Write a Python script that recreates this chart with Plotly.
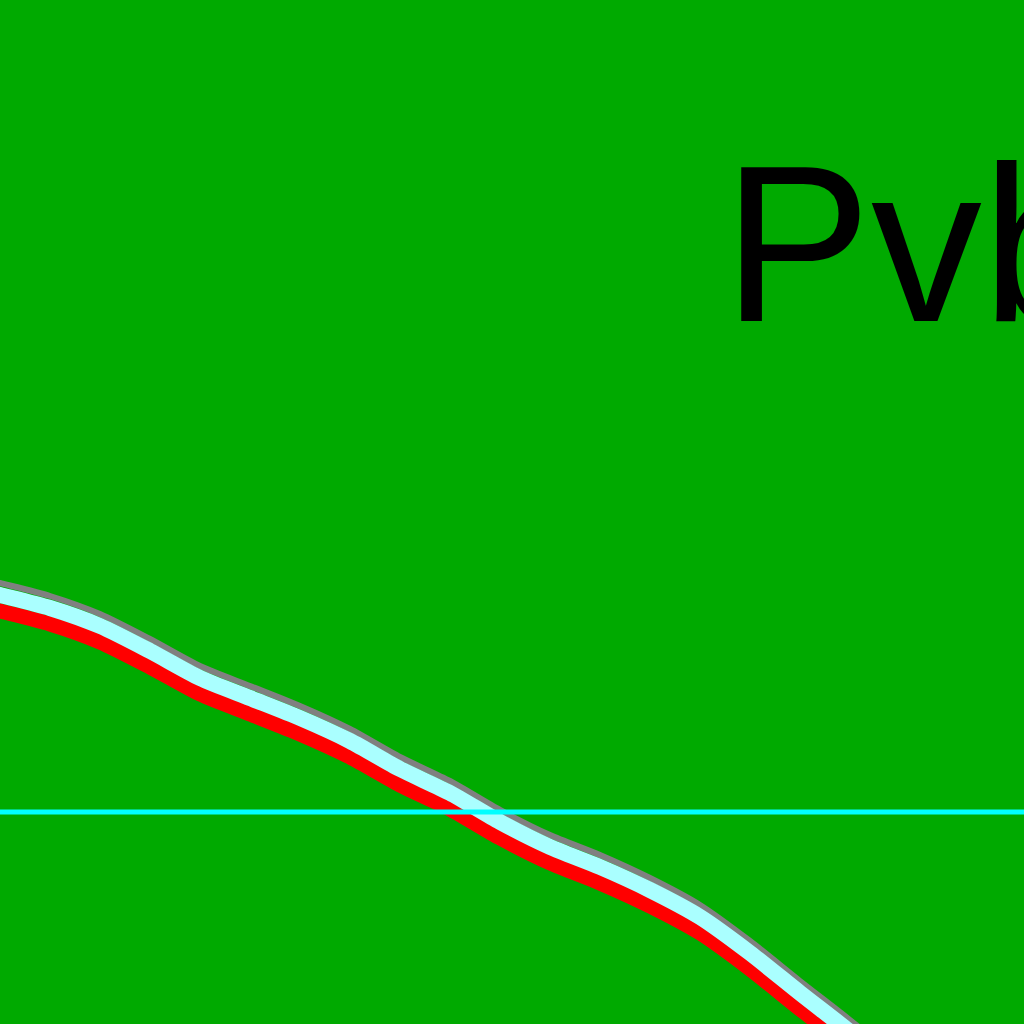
import plotly.graph_objects as go

# positions along the curve
x_vals = [-40, 0, 50, 100, 150, 200, 250, 300, 350, 400, 450, 500, 550, 600, 650, 700, 750, 800, 850, 900]

# three stacked series (value axis runs top -> bottom)
gray_vals = [573, 583, 596, 614, 639, 666, 686, 706, 729, 757, 781, 810, 835, 855, 878, 905, 941, 981, 1020, 1061]
cyan_vals = [585, 595, 608, 626, 651, 678, 698, 718, 741, 769, 793, 822, 847, 867, 890, 917, 953, 993, 1032, 1073]
red_vals = [601, 611, 624, 642, 667, 694, 714, 734, 757, 785, 809, 838, 863, 883, 906, 933, 969, 1009, 1048, 1089]

threshold = 812
label = "Pvb"

fig = go.Figure()
fig.add_trace(go.Scatter(x=x_vals, y=gray_vals, mode="lines", name="gray",
                         line=dict(color="#808080", width=6, shape="spline", smoothing=0.7)))
fig.add_trace(go.Scatter(x=x_vals, y=red_vals, mode="lines", name="red",
                         line=dict(color="#FF0000", width=15, shape="spline", smoothing=0.7)))
fig.add_trace(go.Scatter(x=x_vals, y=cyan_vals, mode="lines", name="cyan",
                         line=dict(color="#AAFFFF", width=16, shape="spline", smoothing=0.7)))

fig.add_hline(y=threshold, line=dict(color="#00FFFF", width=5), layer="above")

fig.add_annotation(text=label, xref="paper", yref="paper", x=721 / 1024, y=1 - 244 / 1024,
                   xanchor="left", yanchor="middle", showarrow=False,
                   font=dict(family="Liberation Sans, Arial, sans-serif", size=222, color="black"))

fig.update_layout(
    width=1024, height=1024,
    margin=dict(l=0, r=0, t=0, b=0),
    paper_bgcolor="#00AA00", plot_bgcolor="#00AA00",
    showlegend=False,
    xaxis=dict(range=[0, 1024], visible=False, fixedrange=True),
    yaxis=dict(range=[1024, 0], visible=False, fixedrange=True),
)

fig.write_html("out.html", config={"displayModeBar": False},
               post_script="document.body.style.margin='0';document.body.style.overflow='hidden';")
